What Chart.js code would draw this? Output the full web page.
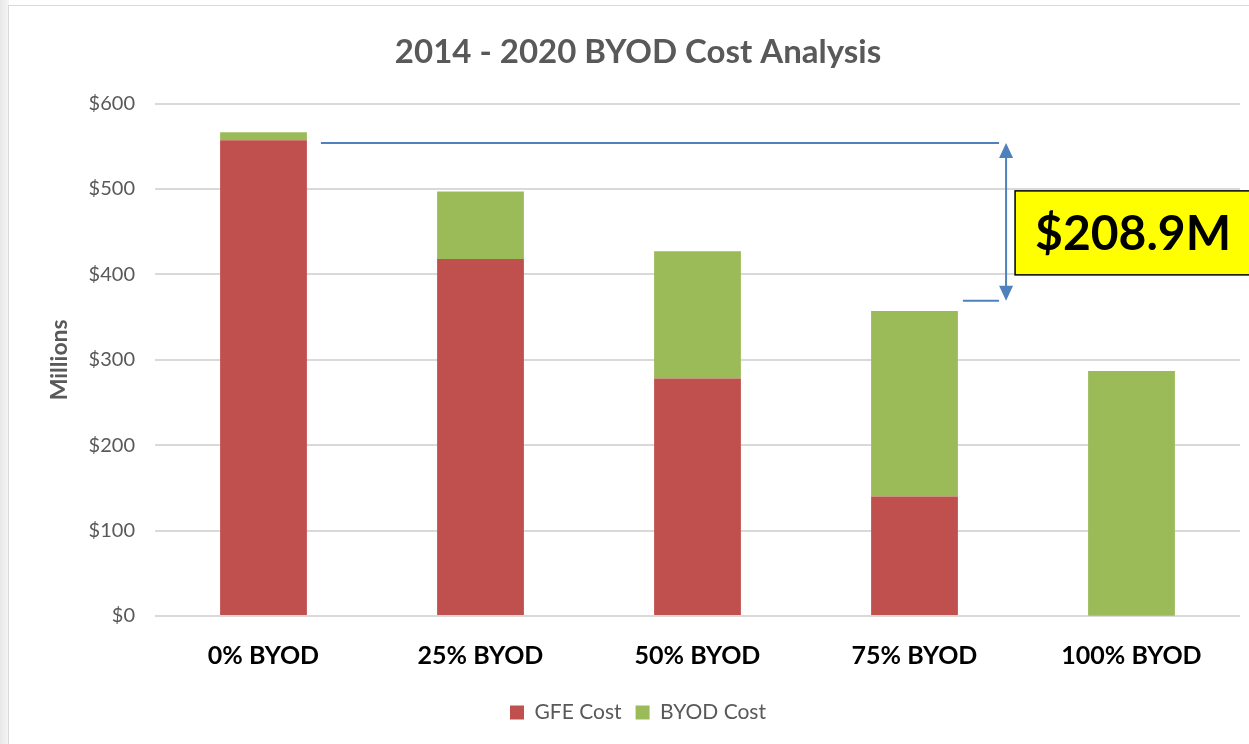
<!DOCTYPE html>
<html>
<head>
<meta charset="utf-8">
<script src="https://cdn.jsdelivr.net/npm/chart.js@4"></script>
<style>
  html, body { margin: 0; padding: 0; overflow: hidden; }
  body { width: 1249px; height: 744px; background: linear-gradient(to right, #e8e8e8, #f6f6f6 9px, #ffffff 9px); position: relative; }
  #frame { position: absolute; left: 8px; top: 5px; width: 1258px; height: 745px; background: #fff; border: 1px solid #d9d9d9; box-sizing: border-box; }
  #chartBox { position: absolute; left: 1px; top: 1px; width: 1256px; height: 738px; }
</style>
</head>
<body>
<div id="frame">
  <div id="chartBox"><canvas id="costChart"></canvas></div>
</div>
<script>
// Data (millions of dollars)
const categories = ['0% BYOD', '25% BYOD', '50% BYOD', '75% BYOD', '100% BYOD'];
const gfeCost = [557, 418, 278, 140, 0.8];
const byodCost = [9.5, 79, 149, 217, 286];
const yTicks = [0, 100, 200, 300, 400, 500, 600];
const savingsLabel = '$208.9M';

const FONT = 'Lato, "Open Sans", sans-serif';

// Draws the savings bracket between the 0% and 75% bars
const savingsPlugin = {
    id: 'savings',
    afterDraw(chart) {
        const ctx = chart.ctx;
        const y = chart.scales.y;
        const bars = chart.getDatasetMeta(1).data;
        const top0 = y.getPixelForValue(gfeCost[0] - 3);
        const top3 = y.getPixelForValue(gfeCost[3] + byodCost[3] + 12);
        const r0 = bars[0].x + bars[0].width / 2;
        const r3 = bars[3].x + bars[3].width / 2;
        const l4 = bars[4].x - bars[4].width / 2;
        const ax = r3 + (l4 - r3) * 0.37;

        ctx.save();
        ctx.strokeStyle = '#4F81BD';
        ctx.fillStyle = '#4F81BD';
        ctx.lineWidth = 2;
        ctx.beginPath();
        ctx.moveTo(r0 + 14, top0);
        ctx.lineTo(ax - 7, top0);
        ctx.moveTo(r3 + 5, top3);
        ctx.lineTo(ax - 7, top3);
        ctx.moveTo(ax, top0 + 10);
        ctx.lineTo(ax, top3 - 10);
        ctx.stroke();
        // arrow heads
        ctx.beginPath();
        ctx.moveTo(ax, top0);
        ctx.lineTo(ax - 7, top0 + 15);
        ctx.lineTo(ax + 7, top0 + 15);
        ctx.closePath();
        ctx.moveTo(ax, top3);
        ctx.lineTo(ax - 7, top3 - 15);
        ctx.lineTo(ax + 7, top3 - 15);
        ctx.closePath();
        ctx.fill();

        // yellow label box
        const bx = ax + 9;
        const mid = (top0 + top3) / 2;
        const by = mid - 31;
        const bh = 84;
        ctx.fillStyle = '#FFFF00';
        ctx.fillRect(bx, by, 300, bh);
        ctx.strokeStyle = '#000';
        ctx.lineWidth = 1.5;
        ctx.strokeRect(bx, by, 300, bh);
        ctx.fillStyle = '#000';
        ctx.font = 'bold 48px ' + FONT;
        ctx.textBaseline = 'middle';
        ctx.textAlign = 'left';
        ctx.fillText(savingsLabel, bx + 20, by + bh / 2 + 2);
        ctx.restore();
    }
};

document.addEventListener('DOMContentLoaded', function() {
    const canvas = document.getElementById('costChart');
    new Chart(canvas.getContext('2d'), {
        type: 'bar',
        data: {
            labels: categories,
            datasets: [{
                label: 'GFE Cost',
                data: gfeCost,
                backgroundColor: '#C0504D',
                borderWidth: 0,
                categoryPercentage: 0.8,
                barPercentage: 0.5
            }, {
                label: 'BYOD Cost',
                data: byodCost,
                backgroundColor: '#9BBB59',
                borderWidth: 0,
                categoryPercentage: 0.8,
                barPercentage: 0.5
            }]
        },
        options: {
            responsive: true,
            maintainAspectRatio: false,
            animation: false,
            layout: { padding: { left: 26, right: 26, top: 0, bottom: 12 } },
            plugins: {
                title: {
                    display: true,
                    text: '2014 - 2020 BYOD Cost Analysis',
                    color: '#595959',
                    font: { family: FONT, size: 33, weight: 'bold' },
                    padding: { top: 26, bottom: 31 }
                },
                legend: {
                    position: 'bottom',
                    labels: {
                        color: '#595959',
                        font: { family: FONT, size: 21 },
                        boxWidth: 14,
                        boxHeight: 14,
                        padding: 14
                    }
                },
                tooltip: { enabled: false }
            },
            scales: {
                x: {
                    stacked: true,
                    grid: { display: false },
                    border: { display: false },
                    ticks: {
                        color: '#000',
                        font: { family: FONT, size: 25, weight: 'bold' },
                        padding: 17
                    }
                },
                y: {
                    stacked: true,
                    min: 0,
                    max: 600,
                    afterBuildTicks: function(scale) {
                        scale.ticks = yTicks.map(v => ({ value: v }));
                    },
                    afterFit: function(scale) {
                        scale.width = 119;
                    },
                    grid: { color: '#d9d9d9', lineWidth: 2, drawTicks: false },
                    border: { display: false },
                    ticks: {
                        color: '#595959',
                        font: { family: FONT, size: 20 },
                        padding: 20,
                        callback: v => '$' + v
                    },
                    title: {
                        display: true,
                        text: 'Millions',
                        color: '#595959',
                        font: { family: FONT, size: 23, weight: 'bold' },
                        padding: { top: 10, bottom: 0 }
                    }
                }
            }
        },
        plugins: [savingsPlugin]
    });
});
</script>
</body>
</html>
